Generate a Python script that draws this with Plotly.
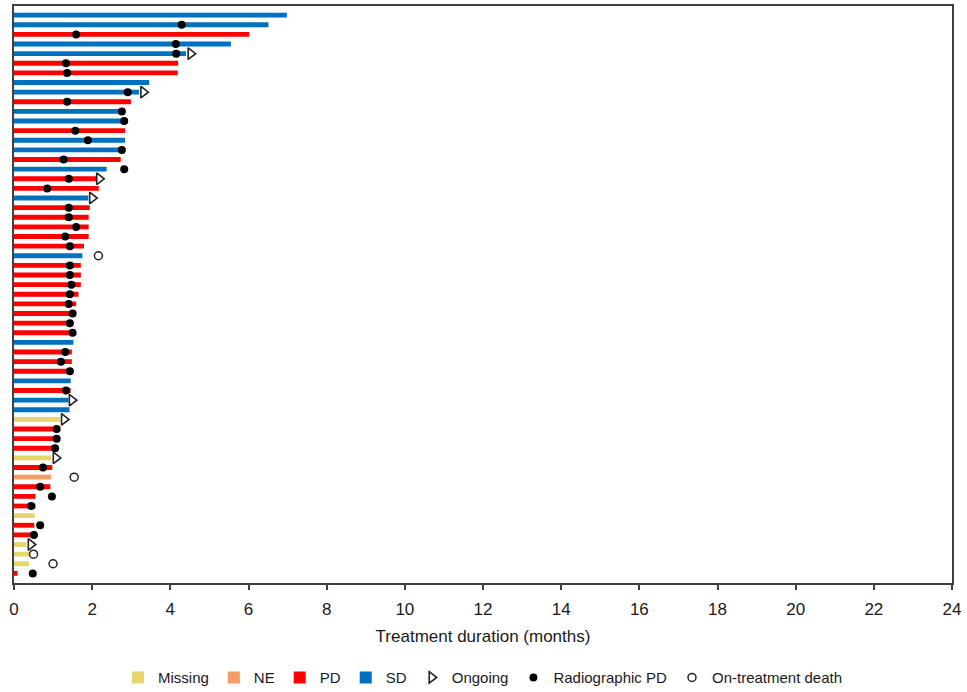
import plotly.graph_objects as go

# Rows listed top to bottom
durations = [6.98, 6.51, 6.02, 5.55, 4.40, 4.20, 4.19, 3.46, 3.20, 2.99,
             2.78, 2.82, 2.84, 2.84, 2.82, 2.73, 2.37, 2.12, 2.17, 1.90,
             1.94, 1.91, 1.91, 1.91, 1.79, 1.75, 1.71, 1.71, 1.71, 1.65,
             1.59, 1.55, 1.51, 1.52, 1.52, 1.48, 1.48, 1.48, 1.45, 1.45,
             1.39, 1.42, 1.18, 1.18, 1.18, 1.13, 0.96, 0.98, 0.95, 0.93,
             0.55, 0.55, 0.53, 0.52, 0.49, 0.32, 0.39, 0.38, 0.09]
response = ["SD", "SD", "PD", "SD", "SD", "PD", "PD", "SD", "SD", "PD",
            "SD", "SD", "PD", "SD", "SD", "PD", "SD", "PD", "PD", "SD",
            "PD", "PD", "PD", "PD", "PD", "SD", "PD", "PD", "PD", "PD",
            "PD", "PD", "PD", "PD", "SD", "PD", "PD", "PD", "SD", "PD",
            "SD", "SD", "Missing", "PD", "PD", "PD", "Missing", "PD", "NE", "PD",
            "PD", "PD", "Missing", "PD", "PD", "Missing", "Missing", "Missing", "PD"]
radiographic_pd = [None, 4.29, 1.59, 4.14, 4.15, 1.33, 1.36, None, 2.91, 1.36,
                   2.76, 2.82, 1.57, 1.89, 2.76, 1.27, 2.82, 1.40, 0.85, None,
                   1.40, 1.40, 1.59, 1.31, 1.43, None, 1.43, 1.43, 1.47, 1.43,
                   1.40, 1.50, 1.43, 1.50, None, 1.31, 1.20, 1.43, None, 1.33,
                   None, None, None, 1.09, 1.09, 1.05, None, 0.74, None, 0.67,
                   0.97, 0.44, None, 0.67, 0.51, None, None, None, 0.48]
ongoing = [None, None, None, None, 4.52, None, None, None, 3.31, None,
           None, None, None, None, None, None, None, 2.18, None, 2.00,
           None, None, None, None, None, None, None, None, None, None,
           None, None, None, None, None, None, None, None, None, None,
           1.48, None, 1.28, None, None, None, 1.07, None, None, None,
           None, None, None, None, None, 0.43, None, None, None]
death = [None] * 25 + [2.16] + [None] * 22 + [1.54] + [None] * 7 + [0.50, 1.00, None]

categories = ["Missing", "NE", "PD", "SD"]
cat_colors = {"Missing": "#E6D46C", "NE": "#F79C66", "PD": "#FF0000", "SD": "#0070C0"}

n = len(durations)
ypos = [n - i for i in range(n)]

fig = go.Figure()
for cat in categories:
    xs = [d for d, r in zip(durations, response) if r == cat]
    ys = [y for y, r in zip(ypos, response) if r == cat]
    fig.add_trace(go.Bar(x=xs, y=ys, orientation="h", name=cat, width=0.5,
                         marker=dict(color=cat_colors[cat], line=dict(width=0))))

def pts(vals):
    xs = [v for v in vals if v is not None]
    ys = [y for v, y in zip(vals, ypos) if v is not None]
    return xs, ys

ox, oy = pts(ongoing)
fig.add_trace(go.Scatter(x=ox, y=oy, mode="markers", name="Ongoing",
                         marker=dict(symbol="triangle-right-open", size=10, color="#222",
                                     line=dict(width=1.6, color="#222"))))
px, py = pts(radiographic_pd)
fig.add_trace(go.Scatter(x=px, y=py, mode="markers", name="Radiographic PD",
                         marker=dict(symbol="circle", size=8, color="black")))
dx, dy = pts(death)
fig.add_trace(go.Scatter(x=dx, y=dy, mode="markers", name="On-treatment death",
                         marker=dict(symbol="circle-open", size=8, color="#222",
                                     line=dict(width=1.5, color="#222"))))

fig.update_layout(
    width=967, height=692,
    margin=dict(l=14, r=15, t=6, b=109, autoexpand=False),
    plot_bgcolor="white", paper_bgcolor="white",
    font=dict(family="Arial, Liberation Sans, sans-serif", color="#1a1a1a"),
    barmode="overlay",
    showlegend=True,
    legend=dict(orientation="h", x=0.5, xanchor="center", y=-0.164, yanchor="middle",
                font=dict(size=15, color="#1a1a1a"), traceorder="normal",
                itemwidth=30),
    xaxis=dict(range=[0, 24], dtick=2, ticks="outside", ticklen=5, tickwidth=1.5,
               tickcolor="#404040", showline=True, linecolor="#404040", linewidth=1.5,
               mirror=True, showgrid=False, zeroline=False, ticklabelstandoff=5,
               automargin=False,
               tickfont=dict(size=17, color="#1a1a1a"),
               title=dict(text="Treatment duration (months)", font=dict(size=17, color="#1a1a1a"),
                          standoff=12)),
    yaxis=dict(range=[0, n + 0.95], showticklabels=False, ticks="", showline=True,
               linecolor="#404040", linewidth=1.5, mirror=True, showgrid=False,
               zeroline=False, automargin=False),
)

fig.write_html("out.html", config={"displayModeBar": False},
               post_script="document.body.style.margin='0';")
